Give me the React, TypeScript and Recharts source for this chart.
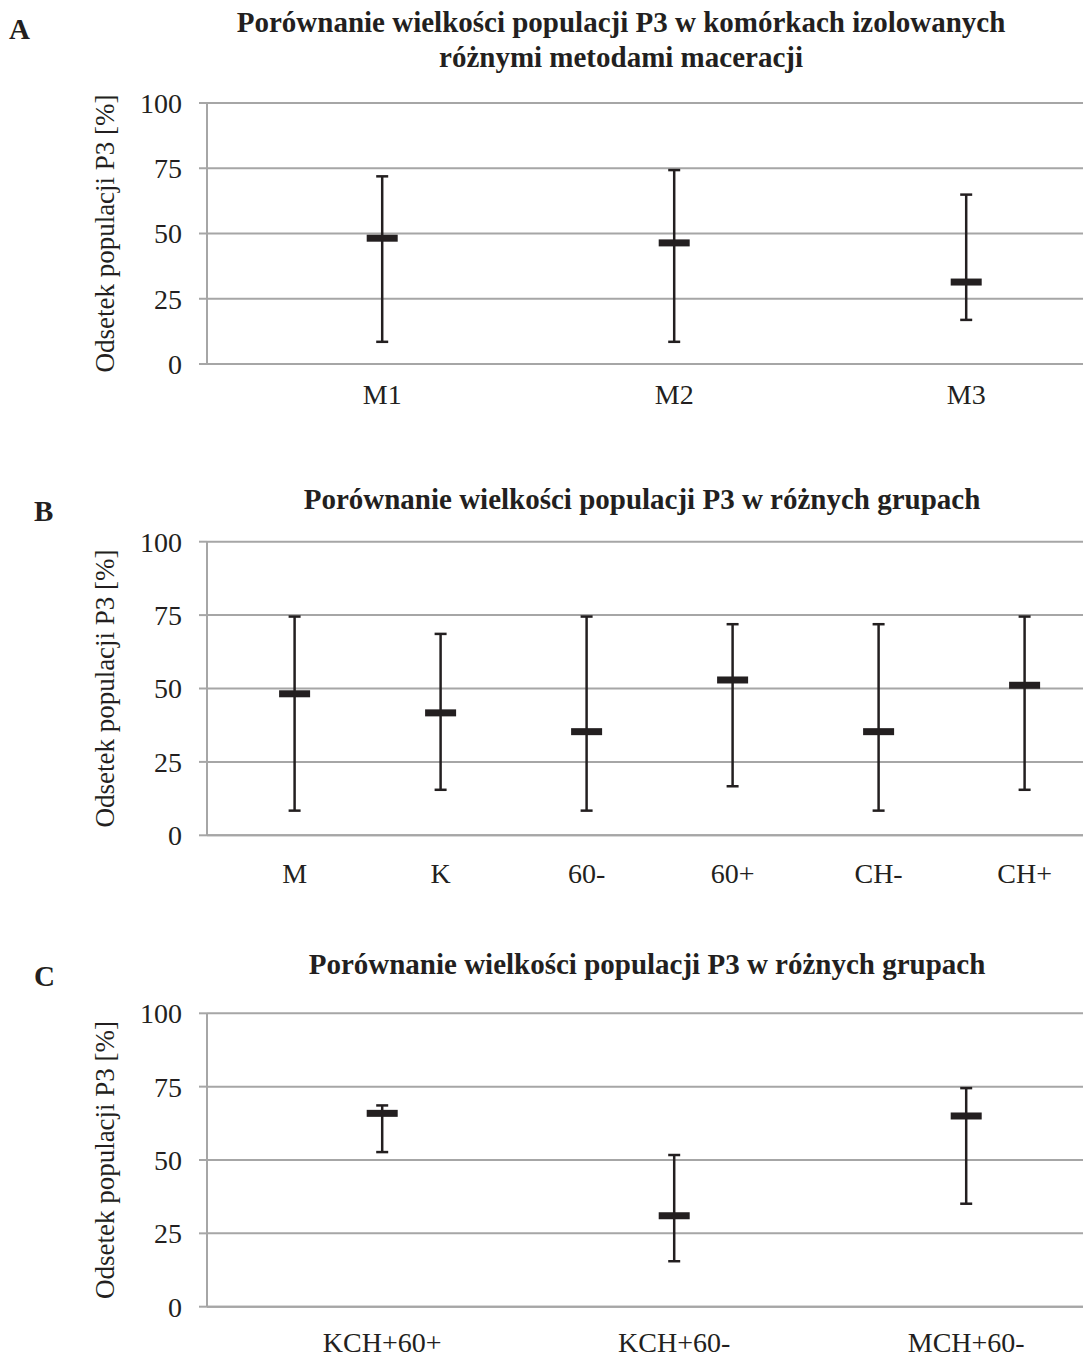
import { ComposedChart, Scatter, ErrorBar, XAxis, YAxis, CartesianGrid } from 'recharts'

// panel A
const catsA = ['M1', 'M2', 'M3']
const medA = [48.2, 46.4, 31.4]
const lowA = [8.5, 8.5, 16.9]
const highA = [71.9, 74.3, 64.9]

// panel B
const catsB = ['M', 'K', '60-', '60+', 'CH-', 'CH+']
const medB = [48.2, 41.7, 35.3, 52.9, 35.3, 51.1]
const lowB = [8.4, 15.5, 8.4, 16.7, 8.4, 15.5]
const highB = [74.5, 68.6, 74.5, 71.9, 71.9, 74.5]

// panel C
const catsC = ['KCH+60+', 'KCH+60-', 'MCH+60-']
const medC = [65.9, 31.0, 65.0]
const lowC = [52.7, 15.5, 35.1]
const highC = [68.6, 51.7, 74.5]

const yTicks = [0, 25, 50, 75, 100]
const yLabel = 'Odsetek populacji P3 [%]'

const FONT = '"Liberation Serif", "Times New Roman", serif'
const GRID = '#a6a6a6'
const INK = '#231f20'

const MedianMark = (props: any) => {
  const { cx, cy } = props
  if (cx == null || cy == null) return null
  return <rect x={cx - 15.5} y={cy - 3.5} width={31} height={7} fill={INK} />
}

interface PanelProps {
  top: number
  height: number
  plotTop: number
  plotBottom: number
  labelGap: number
  cats: string[]
  med: number[]
  low: number[]
  high: number[]
}

const Panel = ({ top, height, plotTop, plotBottom, labelGap, cats, med, low, high }: PanelProps) => {
  const data = cats.map((c, i) => ({
    x: i,
    name: c,
    y: med[i],
    err: [med[i] - low[i], high[i] - med[i]],
  }))
  const xAxisH = 40
  const marginBottom = height - plotBottom - xAxisH
  return (
    <div style={{ position: 'absolute', left: 0, top }}>
      <ComposedChart
        width={1083}
        height={height}
        data={data}
        margin={{ top: plotTop, right: 0, bottom: marginBottom, left: 0 }}
      >
        <CartesianGrid vertical={false} stroke={GRID} strokeWidth={2} />
        <XAxis
          type="number"
          dataKey="x"
          domain={[-0.6, cats.length - 0.6]}
          ticks={cats.map((_, i) => i)}
          tickFormatter={(v: number) => cats[v] ?? ''}
          allowDataOverflow
          interval={0}
          height={xAxisH}
          tickLine={false}
          tickSize={0}
          tickMargin={labelGap}
          axisLine={{ stroke: GRID, strokeWidth: 2 }}
          tick={{ fill: INK, fontSize: 28, fontFamily: FONT }}
        />
        <YAxis
          type="number"
          domain={[0, 100]}
          ticks={yTicks}
          width={207}
          tickSize={8}
          tickMargin={17}
          axisLine={{ stroke: GRID, strokeWidth: 2 }}
          tickLine={{ stroke: GRID, strokeWidth: 2 }}
          tick={{ fill: INK, fontSize: 28, fontFamily: FONT }}
          label={{
            value: yLabel,
            angle: -90,
            position: 'insideLeft',
            offset: 104,
            style: { textAnchor: 'middle', fill: INK, fontSize: 27, fontFamily: FONT },
          }}
        />
        <Scatter dataKey="y" shape={<MedianMark />} isAnimationActive={false}>
          <ErrorBar dataKey="err" direction="y" width={6} strokeWidth={2.5} stroke={INK} />
        </Scatter>
      </ComposedChart>
    </div>
  )
}

const titleStyle: React.CSSProperties = {
  position: 'absolute',
  fontFamily: FONT,
  fontWeight: 'bold',
  fontSize: 29,
  color: INK,
  whiteSpace: 'nowrap',
  transform: 'translate(-50%, -50%)',
  lineHeight: 1,
}

const letterStyle: React.CSSProperties = {
  position: 'absolute',
  fontFamily: FONT,
  fontWeight: 'bold',
  fontSize: 29,
  color: INK,
  transform: 'translateY(-50%)',
  lineHeight: 1,
}

export default function App() {
  return (
    <div style={{ position: 'absolute', left: 0, top: 0, width: 1083, height: 1358, background: '#fff', overflow: 'hidden' }}>
      <Panel top={0} height={420} plotTop={103} plotBottom={364} labelGap={20} cats={catsA} med={medA} low={lowA} high={highA} />
      <Panel top={470} height={430} plotTop={71.7} plotBottom={835.3 - 470} labelGap={28} cats={catsB} med={medB} low={lowB} high={highB} />
      <Panel top={940} height={418} plotTop={73.3} plotBottom={1306.7 - 940} labelGap={25} cats={catsC} med={medC} low={lowC} high={highC} />

      <div style={{ ...letterStyle, left: 9, top: 29 }}>A</div>
      <div style={{ ...letterStyle, left: 34, top: 511 }}>B</div>
      <div style={{ ...letterStyle, left: 34, top: 976 }}>C</div>

      <div style={{ ...titleStyle, left: 621, top: 22 }}>Porównanie wielkości populacji P3 w komórkach izolowanych</div>
      <div style={{ ...titleStyle, left: 621, top: 57 }}>różnymi metodami maceracji</div>
      <div style={{ ...titleStyle, left: 642, top: 499 }}>Porównanie wielkości populacji P3 w różnych grupach</div>
      <div style={{ ...titleStyle, left: 647, top: 964 }}>Porównanie wielkości populacji P3 w różnych grupach</div>
    </div>
  )
}
